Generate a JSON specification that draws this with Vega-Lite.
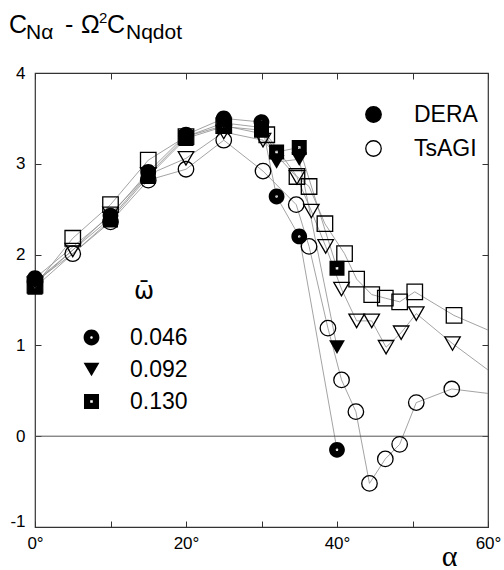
{
  "$schema": "https://vega.github.io/schema/vega-lite/v6.json",
  "autosize": "none",
  "padding": {"left": 35, "top": 73, "right": 16, "bottom": 43},
  "width": 453,
  "height": 454,
  "config": {
    "font": "Liberation Sans",
    "view": {"stroke": "#333", "strokeWidth": 1.2},
    "axis": {
      "domain": false,
      "grid": false,
      "tickColor": "#333",
      "tickSize": -6,
      "tickWidth": 1,
      "labelFont": "Liberation Sans",
      "labelFontSize": 17,
      "labelColor": "black",
      "labelFlush": false,
      "labelOverlap": false
    }
  },
  "datasets": {
    "pts": [
      {"src": "DERA", "om": "0.046", "a": 0, "cn": 1.74},
      {"src": "DERA", "om": "0.046", "a": 10, "cn": 2.43},
      {"src": "DERA", "om": "0.046", "a": 15, "cn": 2.91},
      {"src": "DERA", "om": "0.046", "a": 20, "cn": 3.32},
      {"src": "DERA", "om": "0.046", "a": 25, "cn": 3.50},
      {"src": "DERA", "om": "0.046", "a": 30, "cn": 3.46},
      {"src": "DERA", "om": "0.046", "a": 32, "cn": 2.64},
      {"src": "DERA", "om": "0.046", "a": 35, "cn": 2.20},
      {"src": "DERA", "om": "0.046", "a": 40, "cn": -0.15},
      {"src": "DERA", "om": "0.092", "a": 0, "cn": 1.70},
      {"src": "DERA", "om": "0.092", "a": 10, "cn": 2.40},
      {"src": "DERA", "om": "0.092", "a": 15, "cn": 2.88},
      {"src": "DERA", "om": "0.092", "a": 20, "cn": 3.30},
      {"src": "DERA", "om": "0.092", "a": 25, "cn": 3.45},
      {"src": "DERA", "om": "0.092", "a": 30, "cn": 3.40},
      {"src": "DERA", "om": "0.092", "a": 32, "cn": 3.02},
      {"src": "DERA", "om": "0.092", "a": 35, "cn": 3.05},
      {"src": "DERA", "om": "0.092", "a": 40, "cn": 0.98},
      {"src": "DERA", "om": "0.130", "a": 0, "cn": 1.64},
      {"src": "DERA", "om": "0.130", "a": 10, "cn": 2.38},
      {"src": "DERA", "om": "0.130", "a": 15, "cn": 2.86},
      {"src": "DERA", "om": "0.130", "a": 20, "cn": 3.28},
      {"src": "DERA", "om": "0.130", "a": 25, "cn": 3.41},
      {"src": "DERA", "om": "0.130", "a": 30, "cn": 3.37},
      {"src": "DERA", "om": "0.130", "a": 32, "cn": 3.13},
      {"src": "DERA", "om": "0.130", "a": 35, "cn": 3.18},
      {"src": "DERA", "om": "0.130", "a": 40, "cn": 1.85},
      {"src": "TsAGI", "om": "0.046", "a": 0, "cn": 1.70},
      {"src": "TsAGI", "om": "0.046", "a": 5, "cn": 2.01},
      {"src": "TsAGI", "om": "0.046", "a": 10, "cn": 2.36},
      {"src": "TsAGI", "om": "0.046", "a": 15, "cn": 2.82},
      {"src": "TsAGI", "om": "0.046", "a": 20, "cn": 2.94},
      {"src": "TsAGI", "om": "0.046", "a": 25, "cn": 3.26},
      {"src": "TsAGI", "om": "0.046", "a": 30.2, "cn": 2.92},
      {"src": "TsAGI", "om": "0.046", "a": 34.6, "cn": 2.55},
      {"src": "TsAGI", "om": "0.046", "a": 36.3, "cn": 2.09},
      {"src": "TsAGI", "om": "0.046", "a": 38.8, "cn": 1.19},
      {"src": "TsAGI", "om": "0.046", "a": 40.6, "cn": 0.62},
      {"src": "TsAGI", "om": "0.046", "a": 42.5, "cn": 0.27},
      {"src": "TsAGI", "om": "0.046", "a": 44.3, "cn": -0.52},
      {"src": "TsAGI", "om": "0.046", "a": 46.4, "cn": -0.25},
      {"src": "TsAGI", "om": "0.046", "a": 48.3, "cn": -0.09},
      {"src": "TsAGI", "om": "0.046", "a": 50.5, "cn": 0.37},
      {"src": "TsAGI", "om": "0.046", "a": 55.2, "cn": 0.52},
      {"src": "TsAGI", "om": "0.046", "a": 65, "cn": 0.42},
      {"src": "TsAGI", "om": "0.092", "a": 0, "cn": 1.68},
      {"src": "TsAGI", "om": "0.092", "a": 5, "cn": 2.05},
      {"src": "TsAGI", "om": "0.092", "a": 10, "cn": 2.45},
      {"src": "TsAGI", "om": "0.092", "a": 15, "cn": 2.88},
      {"src": "TsAGI", "om": "0.092", "a": 20, "cn": 3.06},
      {"src": "TsAGI", "om": "0.092", "a": 25, "cn": 3.35},
      {"src": "TsAGI", "om": "0.092", "a": 30.2, "cn": 3.26},
      {"src": "TsAGI", "om": "0.092", "a": 34.7, "cn": 2.85},
      {"src": "TsAGI", "om": "0.092", "a": 36.6, "cn": 2.48},
      {"src": "TsAGI", "om": "0.092", "a": 38.5, "cn": 2.09},
      {"src": "TsAGI", "om": "0.092", "a": 40.6, "cn": 1.62},
      {"src": "TsAGI", "om": "0.092", "a": 42.6, "cn": 1.27},
      {"src": "TsAGI", "om": "0.092", "a": 44.6, "cn": 1.27},
      {"src": "TsAGI", "om": "0.092", "a": 46.5, "cn": 0.98},
      {"src": "TsAGI", "om": "0.092", "a": 48.5, "cn": 1.14},
      {"src": "TsAGI", "om": "0.092", "a": 50.5, "cn": 1.35},
      {"src": "TsAGI", "om": "0.092", "a": 55.3, "cn": 1.02},
      {"src": "TsAGI", "om": "0.092", "a": 65, "cn": 0.42},
      {"src": "TsAGI", "om": "0.130", "a": 0, "cn": 1.66},
      {"src": "TsAGI", "om": "0.130", "a": 5, "cn": 2.18},
      {"src": "TsAGI", "om": "0.130", "a": 10, "cn": 2.55},
      {"src": "TsAGI", "om": "0.130", "a": 15, "cn": 3.04},
      {"src": "TsAGI", "om": "0.130", "a": 20, "cn": 3.30},
      {"src": "TsAGI", "om": "0.130", "a": 25, "cn": 3.42},
      {"src": "TsAGI", "om": "0.130", "a": 30.7, "cn": 3.32},
      {"src": "TsAGI", "om": "0.130", "a": 34.7, "cn": 2.86},
      {"src": "TsAGI", "om": "0.130", "a": 36.3, "cn": 2.75},
      {"src": "TsAGI", "om": "0.130", "a": 38.4, "cn": 2.34},
      {"src": "TsAGI", "om": "0.130", "a": 41.0, "cn": 2.01},
      {"src": "TsAGI", "om": "0.130", "a": 42.6, "cn": 1.73},
      {"src": "TsAGI", "om": "0.130", "a": 44.6, "cn": 1.56},
      {"src": "TsAGI", "om": "0.130", "a": 46.4, "cn": 1.52},
      {"src": "TsAGI", "om": "0.130", "a": 48.3, "cn": 1.48},
      {"src": "TsAGI", "om": "0.130", "a": 50.3, "cn": 1.59},
      {"src": "TsAGI", "om": "0.130", "a": 55.5, "cn": 1.33},
      {"src": "TsAGI", "om": "0.130", "a": 65, "cn": 0.99}
    ]
  },
  "data": {"name": "pts"},
  "resolve": {
    "axis": {"x": "independent", "y": "independent"},
    "scale": {"shape": "independent"}
  },
  "layer": [
    {
      "mark": {"type": "line", "clip": true, "color": "#8c8c8c", "strokeWidth": 0.8},
      "encoding": {
        "x": {
          "field": "a", "type": "quantitative",
          "scale": {"domain": [0, 60], "nice": false, "zero": false},
          "axis": {
            "orient": "bottom",
            "values": [0, 10, 20, 30, 40, 50, 60],
            "labelExpr": "datum.value % 20 === 0 ? datum.value + '°' : ''",
            "labelPadding": 14,
            "title": "α",
            "titleFont": "Liberation Serif",
            "titleFontSize": 30,
            "titleFontWeight": "normal",
            "titleColor": "black",
            "titleAnchor": "end",
            "titleAlign": "right",
            "titleBaseline": "alphabetic",
            "titleX": 422,
            "titleY": 38
          }
        },
        "y": {
          "field": "cn", "type": "quantitative",
          "scale": {"domain": [-1, 4], "nice": false, "zero": false},
          "axis": {
            "orient": "left",
            "values": [-1, 0, 1, 2, 3, 4],
            "labelExpr": "replace(datum.label, '−', '-')",
            "labelPadding": 16,
            "labelOffset": {"condition": {"test": "datum.value === -1", "value": -6}, "value": 0},
            "title": null
          }
        },
        "detail": [{"field": "src"}, {"field": "om"}]
      }
    },
    {
      "data": {"values": [{}]},
      "mark": {"type": "rule", "color": "#555", "strokeWidth": 1},
      "encoding": {"y": {"datum": 0, "type": "quantitative", "axis": null}}
    },
    {
      "transform": [{"filter": "datum.src === 'TsAGI' && datum.a <= 60"}],
      "mark": {"type": "point", "filled": true, "stroke": "black", "strokeWidth": 1.3, "size": 240, "opacity": 1},
      "encoding": {
        "x": {"field": "a", "type": "quantitative", "axis": {"orient": "top", "values": [0, 10, 20, 30, 40, 50, 60], "labels": false, "title": null}},
        "y": {"field": "cn", "type": "quantitative", "axis": {"orient": "right", "values": [-1, 0, 1, 2, 3, 4], "labels": false, "title": null}},
        "shape": {
          "field": "om", "type": "nominal",
          "scale": {"domain": ["0.046", "0.092", "0.130"], "range": ["circle", "triangle-down", "square"]},
          "legend": null
        },
        "fill": {
          "field": "src", "type": "nominal",
          "scale": {"domain": ["DERA", "TsAGI"], "range": ["black", "transparent"]},
          "legend": {
            "title": null,
            "orient": "none",
            "legendX": 327,
            "legendY": 30,
            "padding": 0,
            "symbolType": "circle",
            "symbolSize": 240,
            "symbolStrokeColor": "black",
            "symbolStrokeWidth": 1.3,
            "symbolOpacity": 1,
            "labelFont": "Liberation Sans",
            "labelFontSize": 23,
            "labelColor": "black",
            "labelOffset": 29,
            "rowPadding": 10
          }
        }
      }
    },
    {
      "transform": [{"filter": "datum.src === 'DERA' && datum.a <= 60"}],
      "mark": {"type": "point", "filled": true, "strokeWidth": 0, "size": 250, "opacity": 1},
      "encoding": {
        "x": {"field": "a", "type": "quantitative", "axis": null},
        "y": {"field": "cn", "type": "quantitative", "axis": null},
        "shape": {
          "field": "om", "type": "nominal",
          "scale": {
            "domain": ["0.046", "0.092", "0.130"],
            "range": [
              "M-1,0A1,1,0,1,1,1,0A1,1,0,1,1,-1,0Z M-0.16,0A0.16,0.16,0,1,0,0.16,0A0.16,0.16,0,1,0,-0.16,0Z",
              "triangle-down",
              "M-0.95,-0.95H0.95V0.95H-0.95Z M-0.16,-0.16V0.16H0.16V-0.16Z"
            ]
          },
          "legend": {
            "title": "ω̄",
            "orient": "none",
            "legendX": 45,
            "legendY": 207,
            "padding": 0,
            "titleFont": "DejaVu Sans",
            "titleFontSize": 24,
            "titleFontWeight": "normal",
            "titleColor": "black",
            "titleAnchor": "middle",
            "titleAlign": "left",
            "titlePadding": 22,
            "symbolSize": 250,
            "symbolFillColor": "black",
            "symbolStrokeWidth": 0,
            "symbolOpacity": 1,
            "labelFont": "Liberation Sans",
            "labelFontSize": 23,
            "labelColor": "black",
            "labelOffset": 27,
            "rowPadding": 8
          }
        },
        "fill": {"field": "src", "type": "nominal"}
      }
    },
    {
      "data": {"values": [{"t": "C"}]},
      "mark": {"type": "text", "align": "left", "baseline": "alphabetic", "fontSize": 25, "dx": -26, "dy": -40, "color": "black"},
      "encoding": {"x": {"datum": 0, "type": "quantitative", "axis": null}, "y": {"datum": 4, "type": "quantitative", "axis": null}, "text": {"field": "t"}}
    },
    {
      "data": {"values": [{"t": "Nα"}]},
      "mark": {"type": "text", "align": "left", "baseline": "alphabetic", "fontSize": 21, "dx": -9, "dy": -34, "color": "black"},
      "encoding": {"x": {"datum": 0, "type": "quantitative", "axis": null}, "y": {"datum": 4, "type": "quantitative", "axis": null}, "text": {"field": "t"}}
    },
    {
      "data": {"values": [{"t": "-"}]},
      "mark": {"type": "text", "align": "left", "baseline": "alphabetic", "fontSize": 25, "dx": 30, "dy": -40, "color": "black"},
      "encoding": {"x": {"datum": 0, "type": "quantitative", "axis": null}, "y": {"datum": 4, "type": "quantitative", "axis": null}, "text": {"field": "t"}}
    },
    {
      "data": {"values": [{"t": "Ω"}]},
      "mark": {"type": "text", "align": "left", "baseline": "alphabetic", "fontSize": 25, "dx": 46, "dy": -40, "color": "black"},
      "encoding": {"x": {"datum": 0, "type": "quantitative", "axis": null}, "y": {"datum": 4, "type": "quantitative", "axis": null}, "text": {"field": "t"}}
    },
    {
      "data": {"values": [{"t": "2"}]},
      "mark": {"type": "text", "align": "left", "baseline": "alphabetic", "fontSize": 15, "dx": 64, "dy": -50, "color": "black"},
      "encoding": {"x": {"datum": 0, "type": "quantitative", "axis": null}, "y": {"datum": 4, "type": "quantitative", "axis": null}, "text": {"field": "t"}}
    },
    {
      "data": {"values": [{"t": "C"}]},
      "mark": {"type": "text", "align": "left", "baseline": "alphabetic", "fontSize": 25, "dx": 72, "dy": -40, "color": "black"},
      "encoding": {"x": {"datum": 0, "type": "quantitative", "axis": null}, "y": {"datum": 4, "type": "quantitative", "axis": null}, "text": {"field": "t"}}
    },
    {
      "data": {"values": [{"t": "Nqdot"}]},
      "mark": {"type": "text", "align": "left", "baseline": "alphabetic", "fontSize": 21, "dx": 91, "dy": -34, "color": "black"},
      "encoding": {"x": {"datum": 0, "type": "quantitative", "axis": null}, "y": {"datum": 4, "type": "quantitative", "axis": null}, "text": {"field": "t"}}
    }
  ]
}
